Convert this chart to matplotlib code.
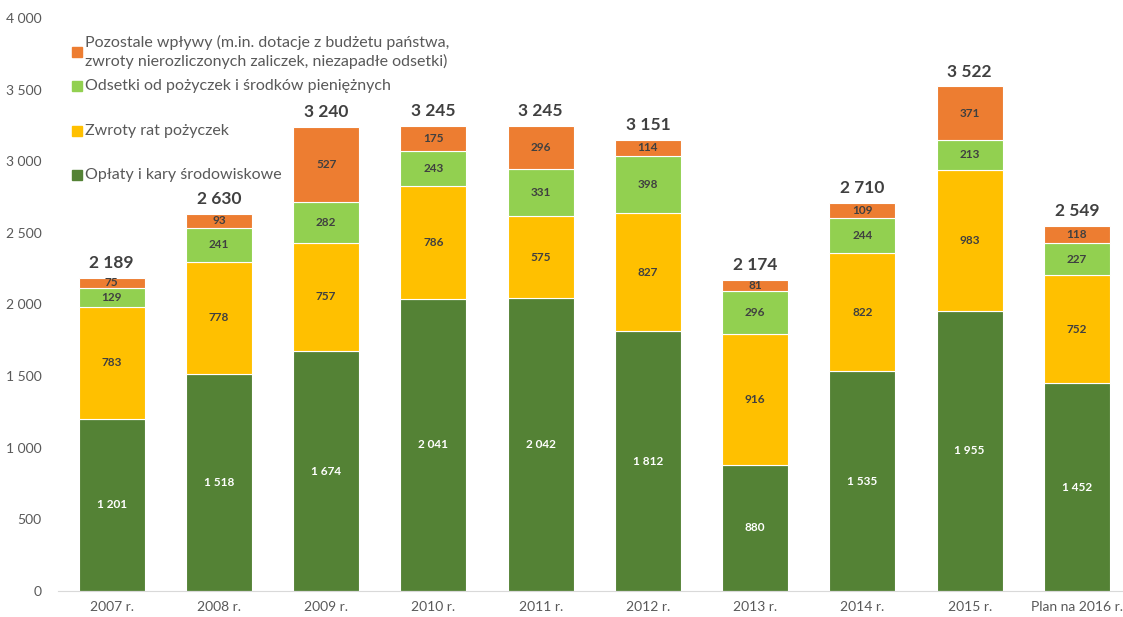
import numpy as np
import matplotlib
matplotlib.use("Agg")
from matplotlib import pyplot as plt
from matplotlib.patches import Rectangle

plt.rcParams['font.family'] = ['Lato', 'DejaVu Sans']

categories = ["2007 r.", "2008 r.", "2009 r.", "2010 r.", "2011 r.",
              "2012 r.", "2013 r.", "2014 r.", "2015 r.", "Plan na 2016 r."]
oplaty = [1201, 1518, 1674, 2041, 2042, 1812, 880, 1535, 1955, 1452]
zwroty = [783, 778, 757, 786, 575, 827, 916, 822, 983, 752]
odsetki = [129, 241, 282, 243, 331, 398, 296, 244, 213, 227]
pozostale = [75, 93, 527, 175, 296, 114, 81, 109, 371, 118]
totals = [2189, 2630, 3240, 3245, 3245, 3151, 2174, 2710, 3522, 2549]

series = [
    ("Opłaty i kary środowiskowe", oplaty, "#548235", "white"),
    ("Zwroty rat pożyczek", zwroty, "#FFC000", "#404040"),
    ("Odsetki od pożyczek i środków pieniężnych", odsetki, "#92D050", "#404040"),
    ("Pozostale wpływy (m.in. dotacje z budżetu państwa,\nzwroty nierozliczonych zaliczek, niezapadłe odsetki)",
     pozostale, "#ED7D31", "#404040"),
]


def fmt(v):
    return f"{v:,}".replace(",", " ")


fig = plt.figure(figsize=(11.23, 6.17), dpi=100)
ax = fig.add_axes([58 / 1123, 26 / 617, (1123 - 58) / 1123, 573 / 617])

x = np.arange(len(categories))
bottom = np.zeros(len(categories))
for name, vals, col, tcol in series:
    vals = np.array(vals)
    ax.bar(x, vals, width=0.615, bottom=bottom, color=col,
           edgecolor="white", linewidth=0.8)
    for xi, b, v in zip(x, bottom, vals):
        ax.text(xi, b + v / 2, fmt(v), ha="center", va="center",
                fontsize=8.5, fontweight="bold", color=tcol)
    bottom = bottom + vals

for xi, b, t in zip(x, bottom, totals):
    ax.annotate(fmt(t), (xi, b), xytext=(0, 5), textcoords="offset points",
                ha="center", va="bottom", fontsize=12.5, fontweight="bold",
                color="#404040")

ax.set_ylim(0, 4000)
ax.set_xlim(-0.5, 9.43)
ax.set_yticks(np.arange(0, 4001, 500))
ax.set_yticklabels([fmt(v) for v in range(0, 4001, 500)])
ax.set_xticks(x)
ax.set_xticklabels(categories)
ax.tick_params(axis="both", length=0, labelsize=10, colors="#595959")
ax.tick_params(axis="y", pad=12)
ax.tick_params(axis="x", pad=7)
for s in ["top", "right", "left"]:
    ax.spines[s].set_visible(False)
ax.spines["bottom"].set_color("#D9D9D9")
ax.set_facecolor("none")

# legend drawn by hand to follow the original spacing
leg_y = [175, 131, 86, 52]
for (name, vals, col, tcol), yy in zip(series, leg_y):
    fy = 1 - yy / 617
    fig.patches.append(Rectangle((72 / 1123, fy - 5 / 617), 10 / 1123, 10 / 617,
                                 transform=fig.transFigure, color=col))
    fig.text(85 / 1123, fy, name, ha="left", va="center", fontsize=11.5,
             color="#595959", linespacing=1.35)

fig.savefig("out.png", dpi=100)
